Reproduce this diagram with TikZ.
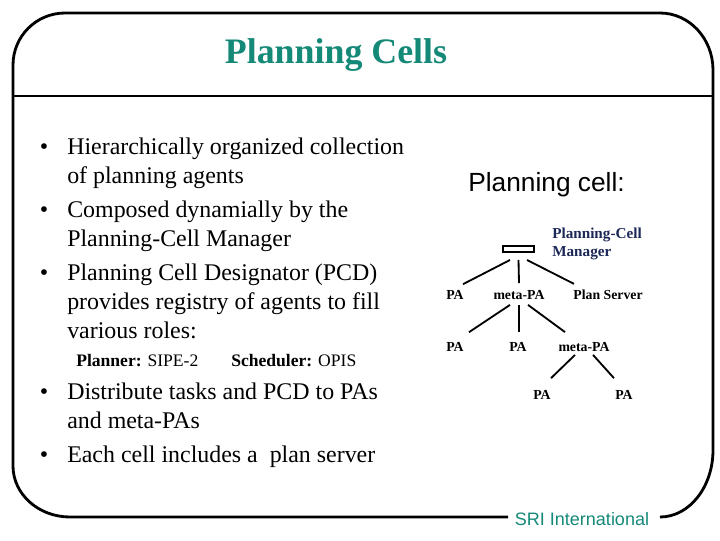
\documentclass[tikz,border=0pt]{standalone}
\usepackage{fontspec}
\setmainfont{Liberation Serif}
\newfontfamily\arialfont{Liberation Sans}
\usetikzlibrary{calc,positioning}
\definecolor{sriteal}{RGB}{20,137,120}
\definecolor{mgrnavy}{RGB}{28,40,88}
\newcommand{\pcbullet}{\llap{\textbullet\hspace{13.5pt}}}

\begin{document}
\begin{tikzpicture}[x=0.025cm,y=-0.025cm,
    every node/.style={inner sep=0pt},
    frame/.style={line width=2pt},
    item/.style={anchor=base west,align=left,font=\fontsize{17}{20.5}\selectfont},
    role/.style={anchor=base west,font=\fontsize{12.5}{15}\selectfont},
    agent/.style={font=\fontsize{9.8}{11}\selectfont\bfseries},
    link/.style={line width=1.3pt}
  ]
  \useasboundingbox (0,0) rectangle (720,540);
  % frame and header
  \node[font=\arialfont\fontsize{12.8}{15}\selectfont,text=sriteal] (sri) at (582,519) {SRI International};
  \draw[frame] (508,517) -- (70,517) arc[start angle=90,end angle=180,x radius=57,y radius=51]
    -- (13,65) arc[start angle=180,end angle=270,radius=52]
    -- (660,13) arc[start angle=270,end angle=360,x radius=53,y radius=57]
    -- (713,450) arc[start angle=0,end angle=90,x radius=53,y radius=67];
  \draw[frame] (13,96) -- (713,96);
  \node[font=\bfseries\fontsize{25.5}{30}\selectfont,text=sriteal] (title) at (336,55) {Planning Cells};

  % bullet list (base = last line)
  \node[item] (it1) at (67,183.5) {\pcbullet Hierarchically organized collection\\of planning agents};
  \node[item] (it2) at (67,246.5) {\pcbullet Composed dynamially by the\\Planning-Cell Manager};
  \node[item] (it3) at (67,338.5) {\pcbullet Planning Cell Designator (PCD)\\provides registry of agents to fill\\various roles:};
  \node[role] (planner) at (76,366) {\textbf{Planner:} SIPE-2};
  \node[role] (sched) at (231,366) {\textbf{Scheduler:} OPIS};
  \node[item] (it4) at (67,428.5) {\pcbullet Distribute tasks and PCD to PAs\\and meta-PAs};
  \node[item] (it5) at (67,462.5) {\pcbullet Each cell includes a\ \ plan server};

  % planning cell tree
  \node[font=\arialfont\fontsize{18.7}{22}\selectfont] (cellhead) at (546.5,185) {Planning cell:};
  \node[draw,line width=1.4pt,minimum width=0.775cm,minimum height=0.15cm] (mgr) at (518.5,249) {};
  \node[agent,text=mgrnavy,align=left,anchor=west,font=\fontsize{10.8}{12.8}\selectfont\bfseries] (mgrlabel) at (552,244) {Planning-Cell\\Manager};
  \node[agent] (pa1) at (455,295) {PA};
  \node[agent] (meta1) at (519,295) {meta-PA};
  \node[agent] (ps) at (608,295) {Plan Server};
  \node[agent] (pa2) at (455,347) {PA};
  \node[agent] (pa3) at (518,347) {PA};
  \node[agent] (meta2) at (584,347) {meta-PA};
  \node[agent] (pa4) at (542,395) {PA};
  \node[agent] (pa5) at (624,395) {PA};

  \draw[link] ($(mgr.south)+(-8.5,7)$) -- ($(pa1.north)+(8,-6)$);
  \draw[link] ($(mgr.south)+(0,7)$) -- ($(meta1.north)+(0,-7)$);
  \draw[link] ($(mgr.south)+(8.5,7)$) -- ($(ps.north)+(-34,-6)$);
  \draw[link] ($(meta1.south)+(-9,5)$) -- ($(pa2.north)+(14,-10)$);
  \draw[link] ($(meta1.south)+(0,5)$) -- ($(pa3.north)+(1,-10)$);
  \draw[link] ($(meta1.south)+(9,5)$) -- ($(meta2.north)+(-19,-10)$);
  \draw[link] ($(meta2.south)+(-9,3)$) -- ($(pa4.north)+(9,-12)$);
  \draw[link] ($(meta2.south)+(9,3)$) -- ($(pa5.north)+(-10,-12)$);
\end{tikzpicture}
\end{document}
